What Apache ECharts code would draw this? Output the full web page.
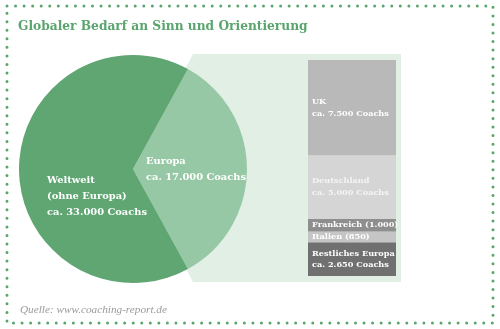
<!DOCTYPE html>
<html><head><meta charset="utf-8">
<script src="https://cdn.jsdelivr.net/npm/echarts@6/dist/echarts.min.js"></script>
<style>html,body{margin:0;padding:0;background:#fff}#c{width:500px;height:329px}</style>
</head><body><div id="c"></div>
<script>
// Data
var pieNames = ['Europa', 'Weltweit (ohne Europa)'];
var pieValues = [17000, 33000];
var pieLabels = ['Europa\nca. 17.000 Coachs', 'Weltweit\n(ohne Europa)\nca. 33.000 Coachs'];
var barCategories = ['Europa'];
var barNames = ['Restliches Europa', 'Italien', 'Frankreich', 'Deutschland', 'UK'];
var barValues = [2650, 850, 1000, 5000, 7500];
var barLabels = ['Restliches Europa\nca. 2.650 Coachs', 'Italien (850)', 'Frankreich (1.000)', 'Deutschland\nca. 5.000 Coachs', 'UK\nca. 7.500 Coachs'];
var europeTotal = 17000;
var titleText = 'Globaler Bedarf an Sinn und Orientierung';
var sourceText = 'Quelle: www.coaching-report.de';

var chart = echarts.init(document.getElementById('c'), null, {renderer: 'canvas'});
var green = '#5aa56e';
var labelFont = '"DejaVu Serif", serif';
var srcFont = '"Liberation Serif", serif';
var barColors = ['#707070', '#c5c5c5', '#8e8e8e', '#d5d5d5', '#b9b9b9'];
var barTextColors = ['#ffffff', '#ffffff', '#ffffff', '#f4f4f4', '#ffffff'];

// pick a font size so that a sample string spans the reference width
var mctx = document.createElement('canvas').getContext('2d');
function fitSize(text, styleWeight, family, target) {
  mctx.font = styleWeight + ' 100px ' + family;
  return 100 * target / mctx.measureText(text).width;
}
var titleSize = fitSize(titleText, 'normal bold', labelFont, 290);
var pieSize = fitSize('ca. 17.000 Coachs', 'normal bold', labelFont, 100);
var barSize = fitSize('ca. 7.500 Coachs', 'normal bold', labelFont, 77);
var srcSize = fitSize(sourceText, 'italic normal', srcFont, 147);

var cx = 133, cy = 169, R = 114;
var gridL = 308, gridT = 60, gridW = 88, gridH = 216;
var pieStart = 180 * pieValues[0] / (pieValues[0] + pieValues[1]); // Europa centred on the right

var series = [{
  type: 'pie', z: 3,
  center: [cx, cy], radius: R,
  startAngle: pieStart, clockwise: true,
  silent: true,
  label: {
    show: true, position: 'inside', color: '#fff',
    fontFamily: labelFont, fontWeight: 'bold', fontSize: pieSize,
    formatter: function (p) {
      return pieLabels[p.dataIndex].split('\n').map(function (s) { return '{a|' + s + '}'; }).join('\n');
    },
    rich: { a: { width: 100, align: 'left', color: '#fff', fontFamily: labelFont, fontWeight: 'bold', fontSize: pieSize, lineHeight: 16 } }
  },
  labelLayout: function (p) {
    return p.dataIndex === 0 ? {dx: 3, dy: 0} : {dx: 24, dy: 27};
  },
  labelLine: {show: false},
  emphasis: {disabled: true},
  data: pieNames.map(function (n, i) {
    return {name: n, value: pieValues[i], itemStyle: {color: i === 0 ? '#97c8a5' : '#5fa672'}};
  })
}];

barNames.forEach(function (n, i) {
  series.push({
    type: 'bar', name: n, stack: 'eu', barWidth: '100%', z: 3,
    silent: true,
    itemStyle: {color: barColors[i]},
    label: {
      show: true, position: 'insideLeft', distance: 4,
      color: barTextColors[i], fontFamily: labelFont, fontWeight: 'bold', fontSize: barSize, lineHeight: 11.5,
      formatter: function () { return barLabels[i]; }
    },
    data: [barValues[i]]
  });
});

chart.setOption({
  animation: false,
  title: {
    text: titleText, left: 13, top: 16,
    textStyle: {color: green, fontFamily: labelFont, fontWeight: 'bold', fontSize: titleSize}
  },
  grid: {left: gridL, top: gridT, width: gridW, height: gridH},
  xAxis: {type: 'category', data: barCategories, show: false},
  yAxis: {type: 'value', min: 0, max: europeTotal, show: false},
  graphic: [
    {type: 'rect', z: 0, silent: true,
     shape: {x: 7, y: 6, width: 486, height: 317},
     style: {fill: null, stroke: green, lineWidth: 3, lineDash: [0, 8.55], lineCap: 'round'}},
    {type: 'polygon', z: 0, silent: true,
     shape: {points: [[cx, cy], [cx + 60, gridT - 6], [gridL + gridW + 5, gridT - 6], [gridL + gridW + 5, gridT + gridH + 6], [cx + 60, gridT + gridH + 6]]},
     style: {fill: '#e1efe5'}},
    {type: 'text', z: 5, left: 20, top: 305, silent: true,
     style: {text: sourceText, fill: '#9a9a9a', font: 'italic ' + srcSize.toFixed(2) + 'px ' + srcFont}}
  ],
  series: series
});
</script></body></html>
